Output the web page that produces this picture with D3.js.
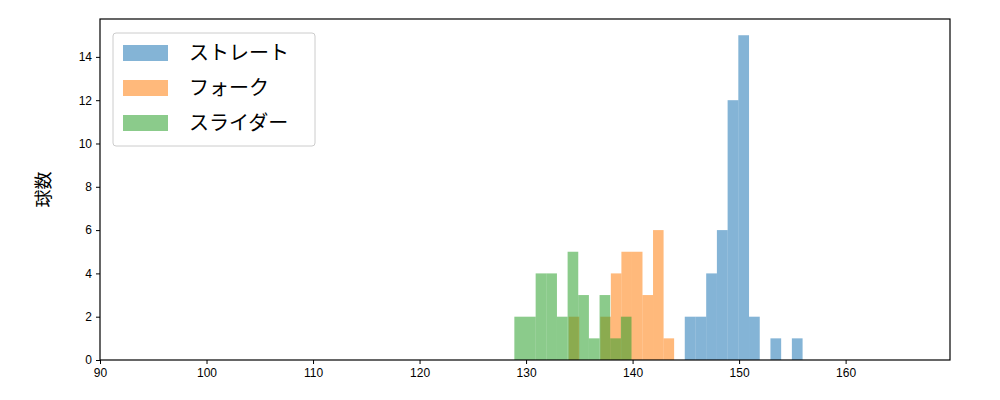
<!DOCTYPE html>
<html><head><meta charset="utf-8">
<script src="https://cdn.jsdelivr.net/npm/d3@7"></script>
<style>body{margin:0;background:#fff;font-family:"DejaVu Sans","Noto Sans CJK JP",sans-serif;}</style>
</head><body><div id="chart"></div>
<script>
var seriesNames = ["ストレート", "フォーク", "スライダー"];
var seriesColors = ["#1f77b4", "#ff7f0e", "#2ca02c"];
// bin range [lo, hi] and counts per series
var straightRange = [144.9, 155.96];
var straightCounts = [2, 2, 4, 6, 12, 15, 2, 0, 1, 0, 1];
var forkRange = [134.0, 143.9];
var forkCounts = [2, 0, 0, 2, 4, 5, 5, 3, 6, 1];
var sliderRange = [128.9, 139.9];
var sliderCounts = [2, 2, 4, 4, 2, 5, 3, 1, 3, 1, 2];
var xTicks = [90, 100, 110, 120, 130, 140, 150, 160];
var yTicks = [0, 2, 4, 6, 8, 10, 12, 14];

var margin = {top: 19, right: 50, bottom: 40, left: 100};
var width = 1000 - margin.left - margin.right, height = 400 - margin.top - margin.bottom;
var svg = d3.select("#chart").append("svg").attr("width", 1000).attr("height", 400)
    .append("g").attr("transform", "translate(" + margin.left + "," + margin.top + ")");

var x = d3.scaleLinear().domain([90, 169.8]).range([0, width]);
var y = d3.scaleLinear().domain([0, 15.75]).range([height, 0]);

var all = [[straightRange, straightCounts], [forkRange, forkCounts], [sliderRange, sliderCounts]];
all.forEach(function(s, k) {
    var lo = s[0][0], w = (s[0][1] - s[0][0]) / s[1].length;
    svg.selectAll(".bar" + k).data(s[1]).enter().append("rect")
        .attr("x", function(d, i) { return x(lo + i * w); })
        .attr("width", x(lo + w) - x(lo))
        .attr("y", function(d) { return y(d); })
        .attr("height", function(d) { return y(0) - y(d); })
        .attr("fill", seriesColors[k]).attr("fill-opacity", 0.55);
});

svg.append("g").attr("transform", "translate(0," + height + ")")
    .call(d3.axisBottom(x).tickValues(xTicks).tickSize(4).tickPadding(4))
    .style("font-size", "12px");
svg.append("g").call(d3.axisLeft(y).tickValues(yTicks).tickSize(4).tickPadding(4))
    .style("font-size", "12px");
svg.selectAll(".domain").remove();
svg.append("rect").attr("width", width).attr("height", height)
    .attr("fill", "none").attr("stroke", "#000").attr("stroke-width", 1.2);

svg.append("text").attr("transform", "translate(-50," + (height / 2) + ") rotate(-90)")
    .attr("text-anchor", "middle").style("font-size", "18px").text("球数");

var lg = svg.append("g").attr("transform", "translate(13,14)");
lg.append("rect").attr("width", 202).attr("height", 113).attr("rx", 3)
    .attr("fill", "#fff").attr("fill-opacity", 0.8).attr("stroke", "#ccc");
seriesNames.forEach(function(n, i) {
    lg.append("rect").attr("x", 10).attr("y", 12 + i * 35).attr("width", 45).attr("height", 16)
        .attr("fill", seriesColors[i]).attr("fill-opacity", 0.55);
    lg.append("text").attr("x", 76).attr("y", 27 + i * 35).style("font-size", "20px").text(n);
});
</script></body></html>
